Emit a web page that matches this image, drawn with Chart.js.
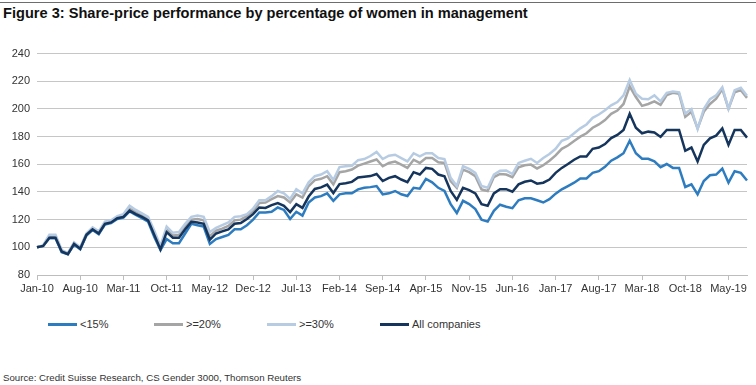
<!DOCTYPE html>
<html lang="en">
<head>
  <meta charset="UTF-8">
  <title>Share-price performance by percentage of women in management</title>
  <script src="https://cdn.jsdelivr.net/npm/chart.js"></script>
  <style>
    body { margin: 0; background: #fff; font-family: "Liberation Sans", Arial, sans-serif; }
    .wrap { position: relative; width: 756px; height: 385px; overflow: hidden; }
    .topline { position: absolute; left: 0; top: 2px; width: 756px; height: 1px; background: #6d6d6d; }
    .title { position: absolute; left: 3px; top: 5px; font-size: 14.6px; font-weight: bold; color: #111; white-space: nowrap; }
    #chartBox { position: absolute; left: 0; top: 40px; }
    .legend { position: absolute; top: 318px; left: 0; font-size: 11px; color: #333; }
    .legend .item { position: absolute; top: 0; white-space: nowrap; display: flex; align-items: center; }
    .legend .swatch { display: inline-block; width: 29px; height: 3px; margin-right: 3px; }
    .source { position: absolute; left: 3px; top: 372px; font-size: 9.7px; color: #333; white-space: nowrap; }
  </style>
</head>
<body>
  <div class="wrap">
    <div class="topline"></div>
    <div class="title">Figure 3: Share-price performance by percentage of women in management</div>
    <div id="chartBox"><canvas id="perfChart" width="756" height="265"></canvas></div>
    <div class="legend" id="legend"></div>
    <div class="source">Source: Credit Suisse Research, CS Gender 3000, Thomson Reuters</div>
  </div>

  <script>
    // monthly, Jan-10 .. Aug-19
    const tickLabels = ["Jan-10", "Aug-10", "Mar-11", "Oct-11", "May-12", "Dec-12", "Jul-13", "Feb-14", "Sep-14",
      "Apr-15", "Nov-15", "Jun-16", "Jan-17", "Aug-17", "Mar-18", "Oct-18", "May-19"];

    const below15 = [100, 101, 106.5, 106.5, 96.5, 95, 102, 98.5, 108.5, 112.5, 109.5, 116.5, 117.5, 120.5, 121.5, 126,
      123.5, 121, 118.5, 107.5, 98, 106, 103, 103, 110, 117, 116, 115, 102.5, 106, 107.5, 109, 113, 113, 116, 120,
      125.2, 125.2, 125.7, 128.8, 127, 120.5, 125.7, 122.9, 132.4, 136, 137, 139, 133.6, 138.3, 139, 139, 141.9, 143,
      143.5, 144.3, 138.3, 139, 140.7, 138.3, 137.1, 143, 142.4, 149.5, 147, 143, 140.7, 131.2, 124.8, 133.6, 131.2,
      127.6, 120, 118.6, 126.4, 130.8, 129.3, 128.3, 134, 135.5, 135.5, 134, 132.4, 134.8, 138.8, 141.9, 144.3, 146.7,
      149.8, 149.8, 153.8, 155, 158.2, 162.6, 165, 168, 177, 168, 164, 164, 162.1, 157.9, 160.2, 157.4, 157.4, 143.6,
      145.5, 138.3, 147.9, 152.1, 152.6, 156.9, 146.7, 155, 153.8, 148.3];

    const atLeast20 = [100, 101, 108, 108, 97.5, 95.5, 103, 99.5, 109.5, 113.5, 110.5, 117.5, 118.5, 121.5, 123, 128,
      125.5, 123, 120.5, 110.5, 99.5, 113, 108.5, 109, 115, 120, 120.5, 119.5, 108, 112, 113.5, 115.5, 119.5, 120, 122.5,
      126, 132, 132.4, 134.8, 137, 136, 132.4, 138.3, 136, 144.3, 148.6, 149.5, 151.4, 145.5, 154.3, 155, 156.2, 159,
      160.5, 162, 163.5, 158.6, 161, 162, 159.8, 157.4, 163.3, 161, 164.5, 164.5, 161.4, 161, 147.9, 143, 156.2, 154.3,
      151.4, 141.9, 140.7, 150.8, 153, 152.6, 150.7, 157.9, 159.3, 159.8, 157, 159.3, 162.6, 166.4, 171.2, 173.6, 176.9,
      180, 182.4, 186.4, 188.8, 192, 196.5, 198.8, 203.6, 216.4, 208.6, 202.2, 203.6, 205.5, 203, 210, 211.7, 211,
      194.3, 198, 186, 198, 203.6, 207.4, 214.3, 200.2, 212, 213.6, 208];

    const atLeast30 = [100, 101.5, 109, 109, 98, 96, 103.5, 100, 110, 114.5, 111.5, 118.5, 119.5, 122.5, 124, 130,
      127, 124.5, 122, 112, 101, 115, 110.5, 111, 117, 122, 123, 122, 111, 114, 116, 118, 122, 122.5, 124, 128,
      134, 134, 137, 140.7, 139, 135, 142, 139, 147, 151.4, 152.6, 155, 148.6, 158, 158.6, 159, 163, 163.8, 166, 169,
      163.8, 166.2, 166.9, 164.5, 162.1, 168, 165.7, 168, 168, 164.5, 163.8, 150.2, 144.3, 158.6, 156.7, 153.8, 144.3,
      143, 152.5, 155.3, 155.5, 153, 161, 162.6, 164, 161, 164.5, 167.4, 171.2, 177, 178.8, 182.4, 186, 188.8, 193.6,
      196, 199, 202.6, 205, 209.8, 221, 211, 207.4, 207, 209.8, 205.5, 211.7, 212.6, 212, 196.7, 200, 185.5, 200,
      207, 209.8, 215.7, 200.2, 213.6, 215.3, 209.5];

    const allCompanies = [100, 101, 107, 107, 97, 95, 102.5, 99, 109, 113, 110, 117, 118, 121, 122, 126.5, 124, 122,
      119.5, 109, 98.5, 111, 107, 107, 113, 118.5, 118, 117, 105.5, 110, 111.5, 113, 117, 117.5, 120.5, 124, 128.8,
      128.5, 130.5, 132, 130, 125.5, 131.2, 128.5, 136.7, 142.2, 143.3, 145.3, 139.2, 145.7, 146.3, 147.3, 150.5, 151,
      151.5, 153, 147.9, 150.2, 151.4, 149, 147.1, 154.3, 152.6, 157.4, 156.7, 152.6, 151.4, 140.7, 134.3, 143, 141.4,
      139, 131.2, 130, 139, 142, 142, 140.2, 145.5, 147.4, 148.3, 146, 146.7, 149, 153.8, 157.4, 160.2, 163.3, 165.7,
      165.7, 171.2, 172.1, 174.6, 179, 181.2, 184.8, 196.5, 186.4, 182.4, 183.6, 183, 179.8, 184.8, 184.8, 184.8, 169.8,
      172.1, 162.1, 174, 178.8, 180.7, 186, 174, 184.8, 184.8, 179.3];

    const monthNames = ["Jan", "Feb", "Mar", "Apr", "May", "Jun", "Jul", "Aug", "Sep", "Oct", "Nov", "Dec"];
    const months = [];
    for (let i = 0; i < allCompanies.length; i++) {
      const yy = 10 + Math.floor(i / 12);
      months.push(monthNames[i % 12] + "-" + yy);
    }

    const series = [
      { label: "<15%", data: below15, color: "#2e7cc0", order: 3 },
      { label: ">=20%", data: atLeast20, color: "#a5a5a5", order: 2 },
      { label: ">=30%", data: atLeast30, color: "#b7cce3", order: 1 },
      { label: "All companies", data: allCompanies, color: "#15355c", order: 0 }
    ];

    // html legend, placed like the original
    const legendX = [48, 154, 267, 380];
    const legend = document.getElementById("legend");
    series.forEach((s, i) => {
      const item = document.createElement("div");
      item.className = "item";
      item.style.left = legendX[i] + "px";
      item.innerHTML = `<span class="swatch" style="background:${s.color}"></span><span>${s.label}</span>`;
      legend.appendChild(item);
    });

    const ctx = document.getElementById("perfChart").getContext("2d");
    new Chart(ctx, {
      type: "line",
      data: {
        labels: months,
        datasets: series.map(s => ({
          label: s.label,
          data: s.data,
          borderColor: s.color,
          backgroundColor: s.color,
          borderWidth: 2.5,
          pointRadius: 0,
          tension: 0,
          fill: false,
          order: s.order
        }))
      },
      options: {
        responsive: false,
        animation: false,
        layout: { padding: { top: 11, right: 9, left: 0, bottom: 0 } },
        plugins: {
          legend: { display: false },
          tooltip: { enabled: false }
        },
        scales: {
          x: {
            offset: false,
            afterFit: scale => { scale.height = 30; },
            border: { display: true, color: "#bdbdbd", width: 1 },
            grid: {
              drawOnChartArea: false,
              drawTicks: true,
              tickLength: 5,
              tickColor: c => (c.tick && tickLabels.includes(c.tick.label)) ? "#bdbdbd" : "rgba(0,0,0,0)"
            },
            ticks: {
              autoSkip: false,
              maxRotation: 0,
              padding: 2,
              color: "#333",
              font: { family: "Liberation Sans", size: 11 },
              callback: function (value, index) {
                const lab = months[index];
                return tickLabels.includes(lab) ? lab : "";
              }
            }
          },
          y: {
            min: 80,
            max: 240,
            afterFit: scale => { scale.width = 37; },
            border: { display: false },
            grid: { color: "#c6c6c6", lineWidth: 1, drawTicks: false },
            ticks: {
              stepSize: 20,
              padding: 7,
              color: "#333",
              font: { family: "Liberation Sans", size: 11 }
            }
          }
        }
      }
    });
  </script>
</body>
</html>
